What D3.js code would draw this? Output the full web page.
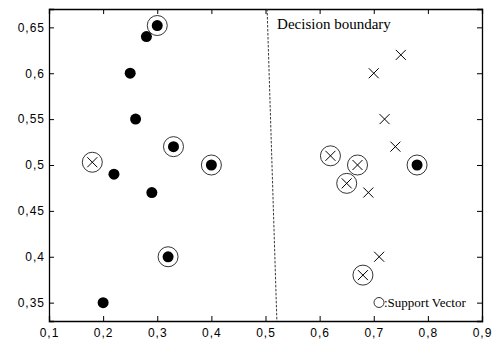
<!DOCTYPE html>
<html>
<head>
<meta charset="utf-8">
<script src="https://cdn.jsdelivr.net/npm/d3@7"></script>
<style>
  body { margin: 0; background: #fff; }
</style>
</head>
<body>
<div id="chart"></div>
<script>
// class A (filled dots) and class B (crosses); sv = support vector
var dotX = [0.30, 0.28, 0.25, 0.26, 0.22, 0.29, 0.20, 0.32, 0.33, 0.40, 0.78];
var dotY = [0.652, 0.64, 0.60, 0.55, 0.49, 0.47, 0.35, 0.40, 0.52, 0.50, 0.50];
var dotSV = [1, 0, 0, 0, 0, 0, 0, 1, 1, 1, 1];

var crossX = [0.18, 0.70, 0.75, 0.72, 0.74, 0.69, 0.71, 0.68, 0.62, 0.67, 0.65];
var crossY = [0.503, 0.60, 0.62, 0.55, 0.52, 0.47, 0.40, 0.38, 0.51, 0.50, 0.48];
var crossSV = [1, 0, 0, 0, 0, 0, 0, 1, 1, 1, 1];

var boundaryX = [0.503, 0.521];
var boundaryY = [0.67, 0.33];

var xTicks = [0.1, 0.2, 0.3, 0.4, 0.5, 0.6, 0.7, 0.8, 0.9];
var yTicks = [0.35, 0.4, 0.45, 0.5, 0.55, 0.6, 0.65];

var width = 504,
    height = 342,
    margin = { left: 49, top: 9, right: 22, bottom: 21 };

var svg = d3.select('#chart')
    .append('svg')
    .attr('width', width)
    .attr('height', height);

var x = d3.scaleLinear().domain([0.1, 0.9]).range([margin.left, width - margin.right]);
var y = d3.scaleLinear().domain([0.33, 0.67]).range([height - margin.bottom, margin.top]);

var fmt = function(d) { return d3.format('.2~f')(d).replace('.', ','); };

// axes with inward ticks
svg.append('g')
    .attr('transform', 'translate(0,' + y.range()[0] + ')')
    .call(d3.axisBottom(x).tickValues(xTicks).tickSize(-5).tickPadding(7).tickFormat(fmt));
svg.append('g')
    .attr('transform', 'translate(0,' + y.range()[1] + ')')
    .call(d3.axisTop(x).tickValues(xTicks).tickSize(-5).tickFormat(''));
svg.append('g')
    .attr('transform', 'translate(' + x.range()[0] + ',0)')
    .call(d3.axisLeft(y).tickValues(yTicks).tickSize(-5).tickPadding(4).tickFormat(fmt));
svg.append('g')
    .attr('transform', 'translate(' + x.range()[1] + ',0)')
    .call(d3.axisRight(y).tickValues(yTicks).tickSize(-5).tickFormat(''));

svg.selectAll('.domain').attr('stroke', '#000').attr('stroke-width', 1.3);
svg.selectAll('.tick line').attr('stroke', '#000');
svg.selectAll('.tick text')
    .style('font', '12px "Liberation Sans", Arial, sans-serif')
    .style('letter-spacing', '1px')
    .attr('fill', '#000');

// decision boundary
svg.append('line')
    .attr('x1', x(boundaryX[0])).attr('y1', y(boundaryY[0]))
    .attr('x2', x(boundaryX[1])).attr('y2', y(boundaryY[1]))
    .attr('stroke', '#222')
    .attr('stroke-width', 0.9)
    .attr('stroke-dasharray', '2.5,1.5');

svg.append('text')
    .attr('x', x(boundaryX[0]) + 10)
    .attr('y', 29)
    .text('Decision boundary')
    .style('font', '15px "Liberation Serif", "Times New Roman", serif');

var dots = d3.range(dotX.length).map(function(i) { return { x: dotX[i], y: dotY[i], sv: dotSV[i] }; });
var crosses = d3.range(crossX.length).map(function(i) { return { x: crossX[i], y: crossY[i], sv: crossSV[i] }; });

var pts = svg.append('g');

pts.selectAll('circle.dot')
    .data(dots)
    .enter()
    .append('circle')
    .attr('class', 'dot')
    .attr('cx', function(d) { return x(d.x); })
    .attr('cy', function(d) { return y(d.y); })
    .attr('r', 5.5)
    .attr('fill', '#000');

pts.selectAll('path.cross')
    .data(crosses)
    .enter()
    .append('path')
    .attr('class', 'cross')
    .attr('d', function(d) {
        var cx = x(d.x), cy = y(d.y), s = 5;
        return 'M' + (cx - s) + ',' + (cy - s) + 'L' + (cx + s) + ',' + (cy + s) +
            'M' + (cx - s) + ',' + (cy + s) + 'L' + (cx + s) + ',' + (cy - s);
    })
    .attr('stroke', '#000')
    .attr('stroke-width', 1);

var sv = dots.concat(crosses).filter(function(d) { return d.sv; });
pts.selectAll('circle.sv')
    .data(sv)
    .enter()
    .append('circle')
    .attr('class', 'sv')
    .attr('cx', function(d) { return x(d.x); })
    .attr('cy', function(d) { return y(d.y); })
    .attr('r', 10)
    .attr('fill', 'none')
    .attr('stroke', '#000')
    .attr('stroke-width', 0.8);

// legend
svg.append('circle')
    .attr('cx', 379).attr('cy', 302.5).attr('r', 5)
    .attr('fill', 'none').attr('stroke', '#000').attr('stroke-width', 0.8);
svg.append('text')
    .attr('x', 384)
    .attr('y', 307)
    .text(':Support Vector')
    .style('font', '13px "Liberation Serif", "Times New Roman", serif');
</script>
</body>
</html>
